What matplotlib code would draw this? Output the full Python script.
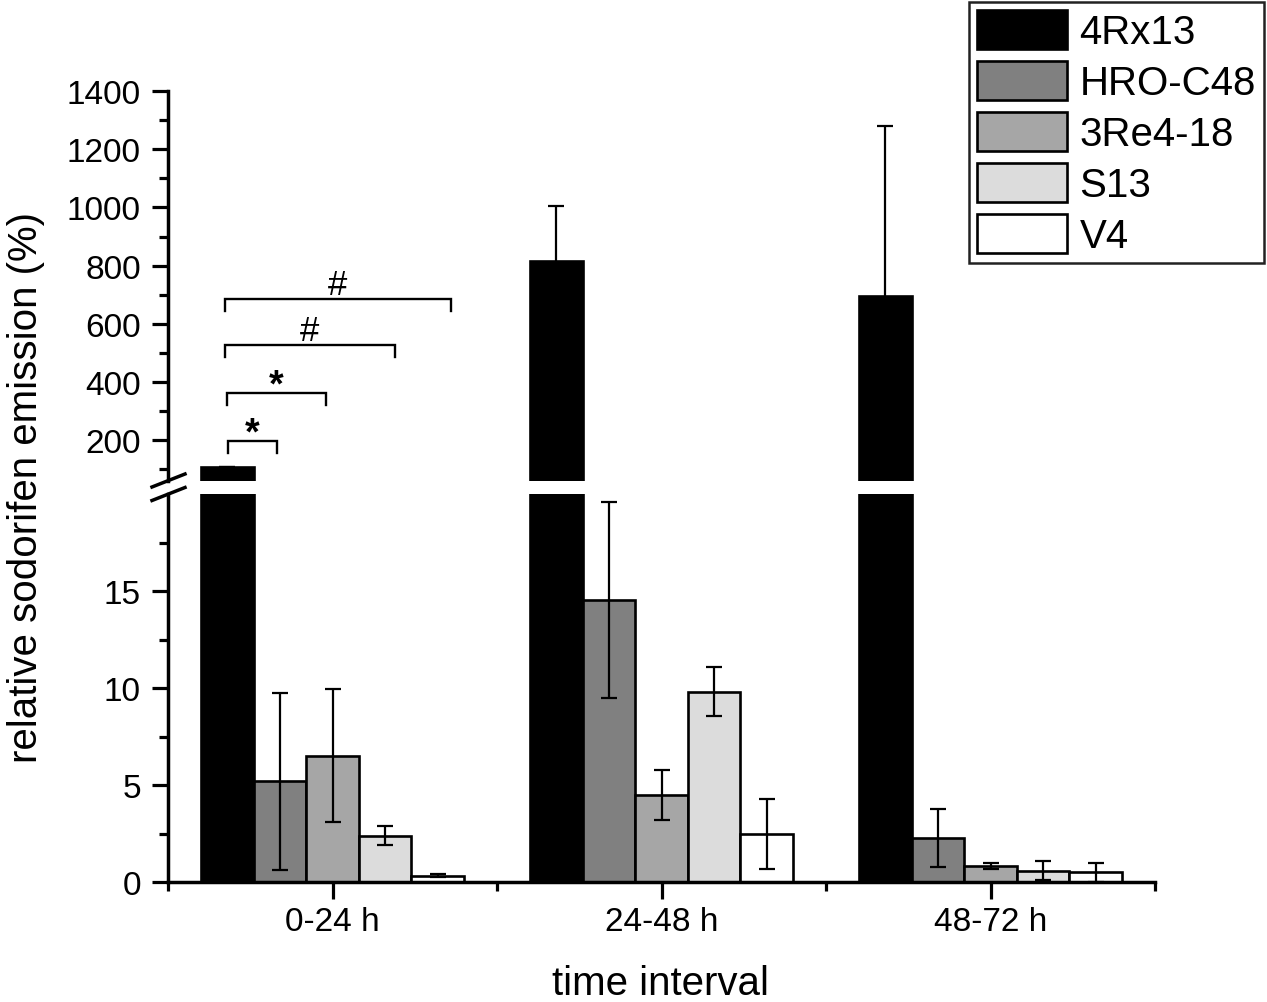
import matplotlib
matplotlib.use('Agg')
import matplotlib.pyplot as plt
import numpy as np
from matplotlib.lines import Line2D
from matplotlib.ticker import FixedLocator

plt.rcParams['font.family'] = ['Liberation Sans', 'DejaVu Sans']

# ---------------- data ----------------
categories = ['0-24 h', '24-48 h', '48-72 h']
strains = ['4Rx13', 'HRO-C48', '3Re4-18', 'S13', 'V4']

mean_4Rx13 = [107, 815, 695]
err_4Rx13 = [0, 189, 585]
mean_HRO = [5.19, 14.55, 2.27]
err_HRO = [4.55, 5.05, 1.5]
mean_3Re = [6.5, 4.5, 0.81]
err_3Re = [3.43, 1.29, 0.15]
mean_S13 = [2.39, 9.81, 0.58]
err_S13 = [0.5, 1.25, 0.48]
mean_V4 = [0.33, 2.47, 0.5]
err_V4 = [0.08, 1.82, 0.5]

bar_colors = ['#000000', '#808080', '#a6a6a6', '#dcdcdc', '#ffffff']

# significance brackets (upper panel, data units)
bracket_x1 = [-0.327, -0.327, -0.322, -0.319]
bracket_x2 = [0.359, 0.19, -0.02, -0.168]
bracket_y = [685, 527, 362, 198]
bracket_labels = ['#', '#', '*', '*']

means = [mean_4Rx13, mean_HRO, mean_3Re, mean_S13, mean_V4]
errs = [err_4Rx13, err_HRO, err_3Re, err_S13, err_V4]

# ---------------- figure ----------------
W_PX, H_PX = 1267, 1003
fig = plt.figure(figsize=(W_PX / 100, H_PX / 100), dpi=100)

left = 168 / W_PX
right = 1155 / W_PX
low_bot, low_top = 883, 495
up_bot, up_top = 482, 92

ax_low = fig.add_axes([left, 1 - low_bot / H_PX, right - left, (low_bot - low_top) / H_PX])
ax_up = fig.add_axes([left, 1 - up_bot / H_PX, right - left, (up_bot - up_top) / H_PX])

width = 0.16
xbase = np.arange(len(categories))
for i, s in enumerate(strains):
    x = xbase + (i - 2) * width
    for ax in (ax_low, ax_up):
        ax.bar(x, means[i], width, yerr=errs[i], color=bar_colors[i],
               edgecolor='black', linewidth=1.9, label=s,
               error_kw=dict(elinewidth=1.6, capsize=5.8, capthick=1.6, ecolor='black'))

for ax in (ax_low, ax_up):
    ax.set_xlim(-0.5, 2.5)
    for sp in ('top', 'right'):
        ax.spines[sp].set_visible(False)
    ax.spines['left'].set_linewidth(2.5)
    ax.spines['bottom'].set_linewidth(2.5)
    ax.tick_params(axis='y', which='major', direction='out', length=11.5, width=2.3,
                   labelsize=24, pad=8)
    ax.tick_params(axis='y', which='minor', direction='out', length=6.5, width=2.3)

ax_low.set_ylim(0, 20)
ax_low.yaxis.set_major_locator(FixedLocator([0, 5, 10, 15]))
ax_low.yaxis.set_minor_locator(FixedLocator([2.5, 7.5, 12.5, 17.5]))
ax_low.set_xticks(xbase)
ax_low.set_xticklabels(categories)
ax_low.xaxis.set_minor_locator(FixedLocator([-0.5, 0.5, 1.5, 2.5]))
ax_low.tick_params(axis='x', which='major', direction='out', length=12, width=2.3,
                   labelsize=24, pad=5)
ax_low.tick_params(axis='x', which='minor', direction='out', length=6.5, width=2.3)

ax_up.set_ylim(60, 1400)
ax_up.yaxis.set_major_locator(FixedLocator(list(range(200, 1401, 200))))
ax_up.yaxis.set_minor_locator(FixedLocator(list(range(100, 1400, 200))))
ax_up.spines['bottom'].set_visible(False)
ax_up.tick_params(axis='x', which='both', bottom=False, labelbottom=False)

# significance brackets
drop = 41
for x1, x2, y, lab in zip(bracket_x1, bracket_x2, bracket_y, bracket_labels):
    ax_up.plot([x1, x1, x2, x2], [y - drop, y, y, y - drop], color='black', lw=1.7,
               solid_joinstyle='miter', clip_on=False)
    if lab == '*':
        ax_up.annotate(lab, ((x1 + x2) / 2, y), xytext=(0, -2), textcoords='offset points',
                       ha='center', va='baseline', fontsize=27, fontweight='bold')
    else:
        ax_up.annotate(lab, ((x1 + x2) / 2, y), xytext=(0, 4), textcoords='offset points',
                       ha='center', va='baseline', fontsize=25)

# axis break marks
def slash(cx, cy):
    dx, dy = 16.5, 6.5
    fig.add_artist(Line2D([(cx - dx) / W_PX, (cx + dx) / W_PX],
                          [1 - (cy + dy) / H_PX, 1 - (cy - dy) / H_PX],
                          transform=fig.transFigure, color='black', lw=2.5))

slash(168.5, 481.5)
slash(168.5, 495)

# labels
fig.text(661 / W_PX, 1 - 995 / H_PX, 'time interval', ha='center', va='baseline', fontsize=29)
fig.text(26 / W_PX, 1 - 487.5 / H_PX, 'relative sodorifen emission (%)', rotation=90,
         ha='center', va='center', fontsize=29)

# legend
handles, labels = ax_low.get_legend_handles_labels()
leg = fig.legend(handles, labels, loc='upper right',
                 bbox_to_anchor=(1264 / W_PX, 1 - 3 / H_PX), bbox_transform=fig.transFigure,
                 borderaxespad=0, fontsize=29, handlelength=2.25, handleheight=1.12,
                 labelspacing=0.24, handletextpad=0.3, borderpad=0.2,
                 fancybox=False, framealpha=1, edgecolor='#222222')
leg.get_frame().set_linewidth(1.8)

fig.savefig('out.png', dpi=100)
